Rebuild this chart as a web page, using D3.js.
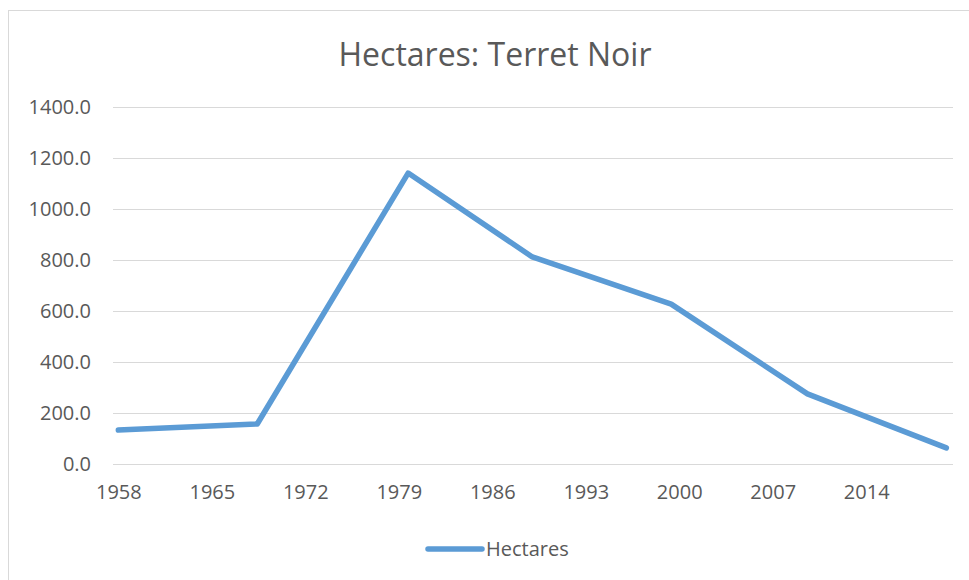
<!DOCTYPE html>
<html>
<head>
<meta charset="utf-8">
<script src="https://cdn.jsdelivr.net/npm/d3@7"></script>
<style>
  body { margin: 0; background: #fff; }
  text { font-family: "Open Sans", "Noto Sans", sans-serif; fill: #595959; }
</style>
</head>
<body>
<div id="chart"></div>
<script>
// Data
const years = [1958, 1968.4, 1979.7, 1989, 1999.4, 2009.6, 2020];
const hectares = [133, 157, 1141, 812, 627, 275, 63];
const xTicks = [1958, 1965, 1972, 1979, 1986, 1993, 2000, 2007, 2014];
const yTicks = [0, 200, 400, 600, 800, 1000, 1200, 1400];
const seriesName = "Hectares";
const title = "Hectares: Terret Noir";

const W = 969, H = 580;
const margin = {top: 107, right: 16, bottom: 116, left: 113};
const width = W - margin.left - margin.right,
      height = H - margin.top - margin.bottom;

const svg = d3.select("#chart")
  .append("svg")
    .attr("width", W)
    .attr("height", H);

// Chart area border
svg.append("rect")
  .attr("x", 8.5).attr("y", 10.5)
  .attr("width", W + 20).attr("height", H + 20)
  .style("fill", "none")
  .style("stroke", "#d9d9d9")
  .style("stroke-width", 1);

// Title
svg.append("text")
  .attr("x", 495).attr("y", 66)
  .attr("text-anchor", "middle")
  .style("font-size", "32px")
  .text(title);

const g = svg.append("g")
  .attr("transform", `translate(${margin.left},${margin.top})`);

const x = d3.scaleLinear()
  .domain([1957.6, 2020.5])
  .range([0, width]);

const y = d3.scaleLinear()
  .domain([0, 1400])
  .range([height, 0]);

// Gridlines
g.selectAll(".grid")
  .data(yTicks)
  .enter()
  .append("line")
  .attr("class", "grid")
  .attr("x1", 0).attr("x2", width)
  .attr("y1", d => Math.round(y(d)) + 0.5)
  .attr("y2", d => Math.round(y(d)) + 0.5)
  .style("stroke", "#d9d9d9")
  .style("stroke-width", 1);

// Y axis labels
const yAxis = g.append("g")
  .call(d3.axisLeft(y).tickValues(yTicks).tickFormat(d3.format(".1f")).tickSize(0).tickPadding(22));
yAxis.select(".domain").remove();
yAxis.selectAll("text").style("font-size", "20px").style("fill", "#595959");

// X axis labels
const xAxis = g.append("g")
  .attr("transform", `translate(0,${height})`)
  .call(d3.axisBottom(x).tickValues(xTicks).tickFormat(d3.format("d")).tickSize(0).tickPadding(21));
xAxis.select(".domain").remove();
xAxis.selectAll("text").style("font-size", "20px").style("fill", "#595959");

// Line
const line = d3.line()
  .x((d, i) => x(years[i]))
  .y(d => y(d));

g.append("path")
  .datum(hectares)
  .attr("d", line)
  .style("fill", "none")
  .style("stroke", "#5b9bd5")
  .style("stroke-width", 5.5)
  .style("stroke-linejoin", "round")
  .style("stroke-linecap", "round");

// Legend
const legend = svg.append("g").attr("transform", "translate(428,549)");
legend.append("line")
  .attr("x1", 0).attr("x2", 54)
  .style("stroke", "#5b9bd5")
  .style("stroke-width", 5.5)
  .style("stroke-linecap", "round");
legend.append("text")
  .attr("x", 58).attr("y", 7)
  .style("font-size", "20px")
  .text(seriesName);
</script>
</body>
</html>
